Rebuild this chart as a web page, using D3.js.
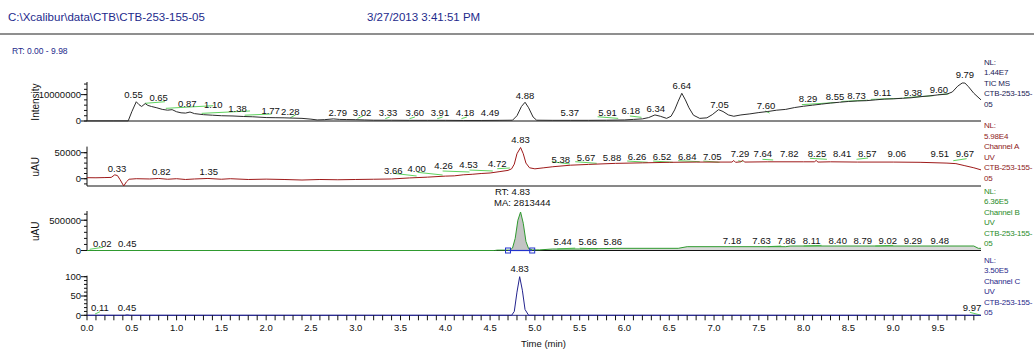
<!DOCTYPE html>
<head>
<meta charset="utf-8">
<style>
    body { margin: 0; background: #fff; }
    svg { font-family: "Liberation Sans", Arial, sans-serif; }
    .trace { fill: none; stroke-width: 1px; }
    .base { fill: none; stroke: #5fd35f; stroke-width: 1px; }
    .plabel { font-size: 9.5px; fill: #111; text-anchor: middle; }
    .side { font-size: 8px; letter-spacing: -0.2px; }
</style>
<title>Chromatogram</title>
</head>

<body>
<script src="https://d3js.org/d3.v7.min.js"></script>
<script>
    // ---- data ----
    const filePath = 'C:\\Xcalibur\\data\\CTB\\CTB-253-155-05';
    const runDate = '3/27/2013 3:41:51 PM';
    const rtRange = 'RT: 0.00 - 9.98';

    const xTicks = [0.0, 0.5, 1.0, 1.5, 2.0, 2.5, 3.0, 3.5, 4.0, 4.5, 5.0, 5.5, 6.0, 6.5, 7.0, 7.5, 8.0, 8.5, 9.0, 9.5];

    // TIC MS trace [time, intensity]
    const tic = [[0,5e4],[0.3,5e4],[0.46,5e4],[0.5,3.5e6],[0.55,7.3e6],[0.58,6.2e6],[0.61,5.5e6],[0.65,6.6e6],
        [0.68,5.9e6],[0.72,5.5e6],[0.78,5.0e6],[0.84,4.4e6],[0.9,4.1e6],[0.95,4.3e6],[1.0,3.5e6],[1.05,3.1e6],
        [1.1,3.0e6],[1.15,3.4e6],[1.2,2.8e6],[1.3,2.4e6],[1.4,2.2e6],[1.5,2.0e6],[1.63,1.9e6],[1.75,1.7e6],
        [1.85,1.6e6],[2.0,1.3e6],[2.1,1.25e6],[2.2,1.2e6],[2.3,1.1e6],[2.4,1.0e6],[2.5,0.7e6],[2.57,0.4e6],
        [2.65,0.5e6],[2.75,0.8e6],[2.82,0.6e6],[2.9,0.55e6],[3.0,0.5e6],[3.1,0.4e6],[3.2,0.3e6],[3.4,0.3e6],
        [3.6,0.25e6],[3.8,0.25e6],[4.0,0.25e6],[4.2,0.2e6],[4.4,0.2e6],[4.6,0.25e6],[4.75,0.3e6],[4.8,2.0e6],
        [4.85,5.5e6],[4.89,7.1e6],[4.93,5.0e6],[4.98,1.5e6],[5.02,0.3e6],[5.2,0.25e6],[5.4,0.25e6],[5.6,0.25e6],
        [5.8,0.3e6],[6.0,0.4e6],[6.1,0.6e6],[6.2,0.8e6],[6.27,1.3e6],[6.34,2.3e6],[6.4,1.8e6],[6.47,1.0e6],
        [6.52,1.8e6],[6.56,4.2e6],[6.6,7.5e6],[6.64,10.5e6],[6.68,8.0e6],[6.72,5.0e6],[6.77,2.2e6],[6.84,1.0e6],
        [6.92,1.2e6],[6.98,2.4e6],[7.05,4.3e6],[7.1,3.6e6],[7.16,2.3e6],[7.22,1.8e6],[7.3,2.3e6],[7.4,2.7e6],
        [7.5,3.2e6],[7.6,3.6e6],[7.7,4.1e6],[7.8,4.4e6],[7.9,5.1e6],[8.0,5.6e6],[8.1,6.0e6],[8.2,6.4e6],
        [8.3,6.8e6],[8.4,7.1e6],[8.5,7.4e6],[8.6,7.6e6],[8.7,7.7e6],[8.8,8.0e6],[8.9,8.3e6],[9.0,8.4e6],
        [9.1,8.6e6],[9.2,8.8e6],[9.3,9.2e6],[9.4,9.5e6],[9.5,9.9e6],[9.6,10.2e6],[9.66,11.0e6],[9.72,13.2e6],
        [9.77,14.4e6],[9.8,14.4e6],[9.84,13.0e6],[9.9,10.5e6],[9.98,8.0e6]];

    // UV channel A [time, uAU]
    const chanA = [[0,2000],[0.1,1800],[0.2,2200],[0.27,2500],[0.31,7500],[0.34,6000],[0.37,-2000],[0.41,-14000],
        [0.44,-6000],[0.47,-1000],[0.55,0],[0.7,-500],[0.8,500],[0.9,-1000],[1.0,0],[1.1,-1500],[1.2,-500],
        [1.35,500],[1.5,-1000],[1.6,0],[1.8,-1500],[2.0,-800],[2.2,-1500],[2.4,-2500],[2.6,-1500],[2.8,-2000],
        [3.0,-1500],[3.2,-1000],[3.4,-500],[3.6,1500],[3.8,3000],[4.0,5000],[4.1,5500],[4.2,7500],[4.3,8500],
        [4.4,10000],[4.5,11000],[4.6,13500],[4.7,16000],[4.74,19000],[4.77,28000],[4.8,48000],[4.84,60000],
        [4.87,48000],[4.9,30000],[4.94,21000],[5.0,19000],[5.1,21000],[5.2,23000],[5.4,26000],[5.6,27500],
        [5.9,29500],[6.2,30500],[6.5,31500],[6.8,32000],[7.05,32000],[7.2,32000],[7.22,35000],[7.24,31500],
        [7.3,32500],[7.32,35500],[7.34,32000],[7.6,32500],[8.0,32500],[8.12,32500],[8.14,35000],[8.16,32000],
        [8.3,32500],[8.6,32000],[9.0,32000],[9.3,31500],[9.6,30000],[9.7,29000],[9.8,25000],[9.9,21000],[9.98,17000]];

    // UV channel B [time, uAU]
    const chanB = [[0,0],[0.1,0],[4.55,0],[4.58,6000],[4.72,6000],[4.75,40000],[4.78,200000],[4.81,500000],
        [4.84,636000],[4.87,450000],[4.9,150000],[4.93,30000],[4.97,10000],[5.05,10000],[5.2,25000],[5.5,25000],
        [5.95,36000],[6.6,36000],[6.7,63000],[7.8,63000],[7.85,74000],[9.9,74000],[9.95,36000],[9.98,36000]];

    // UV channel C [time, relative %]
    const chanC = [[0,0],[0.42,0],[0.45,1.2],[0.48,0],[4.74,0],[4.77,10],[4.8,60],[4.83,100],[4.86,65],
        [4.89,15],[4.93,0],[9.98,0]];

    // peak labels [text, time, value]
    const ticLabels = [['0.55',0.52,8.7e6],['0.65',0.80,7.6e6],['0.87',1.12,5.3e6],['1.10',1.41,4.9e6],
        ['1.38',1.68,3.4e6],['1.77',2.05,2.5e6],['2.28',2.27,2.3e6],['2.79',2.80,1.9e6],['3.02',3.07,1.9e6],
        ['3.33',3.36,1.9e6],['3.60',3.66,1.9e6],['3.91',3.94,1.9e6],['4.18',4.22,1.9e6],['4.49',4.50,1.9e6],
        ['4.88',4.89,8.3e6],['5.37',5.39,1.9e6],['5.91',5.81,1.9e6],['6.18',6.07,2.5e6],['6.34',6.35,3.4e6],
        ['6.64',6.64,12.1e6],['7.05',7.06,5.1e6],['7.60',7.58,4.7e6],['8.29',8.05,7.2e6],['8.55',8.35,8.0e6],
        ['8.73',8.59,8.3e6],['9.11',8.88,9.5e6],['9.38',9.22,9.5e6],['9.60',9.51,10.8e6],['9.79',9.80,16.3e6]];
    const aLabels = [['0.33',0.335,13300],['0.82',0.83,8000],['1.35',1.36,8000],['3.66',3.42,8700],
        ['4.00',3.68,13300],['4.26',3.98,18300],['4.53',4.26,21000],['4.72',4.58,22900],['4.83',4.84,67700],
        ['5.38',5.29,30600],['5.67',5.57,33700],['5.88',5.86,34400],['6.26',6.14,36900],['6.52',6.42,36900],
        ['6.84',6.70,36900],['7.05',6.98,36900],['7.29',7.29,40800],['7.64',7.545,40800],['7.82',7.84,40800],
        ['8.25',8.15,40800],['8.41',8.43,40800],['8.57',8.71,40800],['9.06',9.04,40800],['9.51',9.52,40800],
        ['9.67',9.80,40800]];
    const bLabels = [['0.02',0.17,61000],['0.45',0.45,61000],['5.44',5.31,99000],['5.66',5.59,99000],
        ['5.86',5.87,99000],['7.18',7.20,115500],['7.63',7.53,115500],['7.86',7.81,115500],['8.11',8.09,115500],
        ['8.40',8.38,115500],['8.79',8.66,115500],['9.02',8.94,115500],['9.29',9.22,115500],['9.48',9.52,115500],
        ['RT: 4.83',4.75,916000],['MA: 2813444',4.86,734000]];
    const cLabels = [['0.11',0.145,10.6],['0.45',0.446,10.6],['4.83',4.83,111],['9.97',9.88,10.6]];

    // green peak baselines [t1, v1, t2, v2]
    const ticBase = [[0.647,6.7e6,0.87,7.3e6],[0.88,4.8e6,1.41,5.8e6],[1.28,2.9e6,1.82,3.8e6],[1.76,2.2e6,2.06,2.65e6],
        [2.27,1.25e6,2.33,2.35e6],[3.02,1.0e6,3.08,1.9e6],[3.33,0.9e6,3.38,1.5e6],[3.60,0.9e6,3.66,1.5e6],
        [3.91,0.9e6,3.97,1.5e6],[4.18,0.9e6,4.24,1.5e6],[5.70,1.6e6,5.93,1.0e6],[6.06,1.9e6,6.19,1.4e6],
        [7.57,3.8e6,7.62,3.0e6],[7.98,6.2e6,8.36,7.0e6],[8.42,7.4e6,8.72,7.9e6],[8.75,8.2e6,9.1,8.6e6],
        [9.12,8.8e6,9.45,9.6e6],[9.5,10.0e6,9.62,10.3e6]];
    const aBase = [[3.42,10400,3.68,5200],[3.69,12300,3.97,7100],[3.97,14800,4.27,12900],[4.27,16700,4.53,14800],
        [4.58,19200,4.72,20600],[5.19,32700,5.39,28300],[5.45,32700,5.69,29600],[6.03,34000,6.26,31500],
        [6.32,34000,6.54,31500],[6.60,34600,6.84,32700],[6.88,34000,7.06,31500],[7.27,34600,7.32,32700],
        [7.54,37300,7.66,36000],[8.07,39200,8.26,37300],[8.59,37300,8.72,39800],[9.67,34600,9.82,38500]];
    const bBase = [[0.03,20000,0.18,53000],[5.25,25000,5.45,40000],[5.5,38000,5.7,28000],[7.6,63000,7.75,75000],
        [8.0,74000,8.2,85000],[8.8,74000,9.0,85000]];
    const cBase = [[0.09,3.4,0.145,9.3],[9.855,7.8,9.97,0.8]];

    // integrated peak in channel B [start, end]
    const bPeak = [4.70, 4.97];

    const sideTIC = ['NL:', '1.44E7', 'TIC  MS', 'CTB-253-155-', '05'];
    const sideA = ['NL:', '5.98E4', 'Channel A', 'UV', 'CTB-253-155-', '05'];
    const sideB = ['NL:', '6.36E5', 'Channel B', 'UV', 'CTB-253-155-', '05'];
    const sideC = ['NL:', '3.50E5', 'Channel C', 'UV', 'CTB-253-155-', '05'];

    // ---- layout ----
    const W = 1034, H = 349;
    const svg = d3.select('body').append('svg').attr('width', W).attr('height', H);

    const x = d3.scaleLinear().domain([0, 9.98]).range([87, 981]);

    const panels = [
        { data: tic, labels: ticLabels, base: ticBase, side: sideTIC, color: '#2c2c2c', sideColor: '#1b1b55',
          y: d3.scaleLinear().domain([0, 1.44e7]).range([121, 83]), bottom: 121,
          major: [0, 1e7], minor: d3.range(0, 1.45e7, 2e6), yTitle: 'Intensity', fmt: d => d3.format('d')(d), sideTop: 64.5 },
        { data: chanA, labels: aLabels, base: aBase, side: sideA, color: '#9e1a1a', sideColor: '#8e1b1b',
          y: d3.scaleLinear().domain([-14000, 59800]).range([186, 147.6]), bottom: 186,
          major: [0, 50000], minor: d3.range(-10000, 59000, 10000), yTitle: 'uAU', fmt: d => d, sideTop: 128 },
        { data: chanB, labels: bLabels, base: bBase, side: sideB, color: '#2f9a2f', sideColor: '#2a8c2a',
          y: d3.scaleLinear().domain([0, 636000]).range([250.5, 212]), bottom: 250.5,
          major: [0, 500000], minor: d3.range(0, 636000, 100000), yTitle: 'uAU', fmt: d => d, sideTop: 193.5 },
        { data: chanC, labels: cLabels, base: cBase, side: sideC, color: '#23238e', sideColor: '#2a2a8a',
          y: d3.scaleLinear().domain([0, 100]).range([315.3, 276.7]), bottom: 315.3,
          major: [0, 50, 100], minor: d3.range(0, 101, 10), yTitle: '', fmt: d => d, sideTop: 262.5 }
    ];

    // header
    svg.append('text').attr('x', 8).attr('y', 21).attr('font-size', '11.5px').attr('fill', '#1d2a8c').text(filePath);
    svg.append('text').attr('x', 367).attr('y', 21).attr('font-size', '11.5px').attr('fill', '#1d2a8c').text(runDate);
    svg.append('line').attr('x1', 0).attr('x2', W).attr('y1', 34).attr('y2', 34)
        .attr('stroke', '#8f8f8f').attr('stroke-width', 2);
    svg.append('text').attr('x', 12).attr('y', 54).attr('font-size', '8.5px').attr('fill', '#1d2a8c').text(rtRange);

    panels.forEach((p, i) => {
        const g = svg.append('g');
        const [y0, y1] = p.y.range();

        // gray fill under the integrated peak of channel B
        if (i === 2) {
            const peakPts = p.data.filter(d => d[0] >= bPeak[0] && d[0] <= bPeak[1]);
            g.append('path').datum([[bPeak[0], 0], ...peakPts, [bPeak[1], 0]])
                .attr('fill', '#c4c4c4').attr('stroke', 'none')
                .attr('d', d3.area().x(d => x(d[0])).y0(p.y(0)).y1(d => p.y(d[1])));
            g.append('path').datum(p.data.filter(d => d[0] >= 5.0))
                .attr('fill', '#d9d9d9').attr('stroke', 'none')
                .attr('d', d3.area().x(d => x(d[0])).y0(p.y(0)).y1(d => p.y(d[1])));
        }

        // bottom line
        g.append('line').attr('x1', x(0)).attr('x2', x(9.98)).attr('y1', p.bottom).attr('y2', p.bottom)
            .attr('stroke', i === 3 ? '#23238e' : '#111').attr('stroke-width', 1);

        // y axis
        g.append('line').attr('x1', x(0)).attr('x2', x(0)).attr('y1', y1 - 1).attr('y2', p.bottom)
            .attr('stroke', '#111');
        g.selectAll('.mn').data(p.minor).join('line')
            .attr('x1', x(0) - 3).attr('x2', x(0)).attr('y1', d => p.y(d)).attr('y2', d => p.y(d))
            .attr('stroke', '#111');
        g.selectAll('.mj').data(p.major).join('line')
            .attr('x1', x(0) - 6).attr('x2', x(0)).attr('y1', d => p.y(d)).attr('y2', d => p.y(d))
            .attr('stroke', '#111');
        g.selectAll('.yl').data(p.major).join('text')
            .attr('x', x(0) - 6).attr('y', d => p.y(d) + 3.3).attr('text-anchor', 'end')
            .attr('font-size', '9.5px').attr('fill', '#111').text(p.fmt);
        if (p.yTitle) {
            g.append('text').attr('transform', `translate(39,${(y1 + p.bottom) / 2}) rotate(-90)`)
                .attr('text-anchor', 'middle').attr('font-size', '10px').attr('fill', '#111').text(p.yTitle);
        }

        // peak baselines
        g.selectAll('.bl').data(p.base).join('line').attr('class', 'base')
            .attr('x1', d => x(d[0])).attr('y1', d => p.y(d[1]))
            .attr('x2', d => x(d[2])).attr('y2', d => p.y(d[3]));

        // trace
        g.append('path').datum(p.data).attr('class', 'trace').attr('stroke', p.color)
            .attr('d', d3.line().x(d => x(d[0])).y(d => p.y(d[1])));

        // integrated peak markers for channel B
        if (i === 2) {
            g.append('line').attr('x1', x(bPeak[0])).attr('x2', x(bPeak[1]))
                .attr('y1', p.y(0)).attr('y2', p.y(0)).attr('stroke', '#2233cc').attr('stroke-width', 1.2);
            g.selectAll('.sq').data(bPeak).join('rect')
                .attr('x', d => x(d) - 2.5).attr('y', p.y(0) - 2.5).attr('width', 5).attr('height', 5)
                .attr('fill', 'none').attr('stroke', '#2233cc');
        }

        // peak labels
        g.selectAll('.pl').data(p.labels).join('text').attr('class', 'plabel')
            .attr('x', d => x(d[1])).attr('y', d => p.y(d[2])).text(d => d[0]);

        // side text
        g.selectAll('.sd').data(p.side).join('text').attr('class', 'side')
            .attr('x', 984).attr('y', (d, k) => p.sideTop + k * 10.5).attr('fill', p.sideColor).text(d => d);
    });

    // time axis
    const ax = svg.append('g');
    const yAx = panels[3].bottom;
    ax.selectAll('.tk').data(d3.range(0, 100)).join('line')
        .attr('x1', d => x(d / 10)).attr('x2', d => x(d / 10))
        .attr('y1', yAx).attr('y2', yAx + 5).attr('stroke', '#111');
    ax.selectAll('.tl').data(xTicks).join('text')
        .attr('x', d => x(d)).attr('y', yAx + 16).attr('text-anchor', 'middle')
        .attr('font-size', '9.5px').attr('fill', '#111').text(d => d.toFixed(1));
    svg.append('text').attr('x', x(0) + (x(9.98) - x(0)) / 2 - 13).attr('y', 347)
        .attr('font-size', '9.5px').attr('fill', '#111').text('Time (min)');
</script>
</body>
